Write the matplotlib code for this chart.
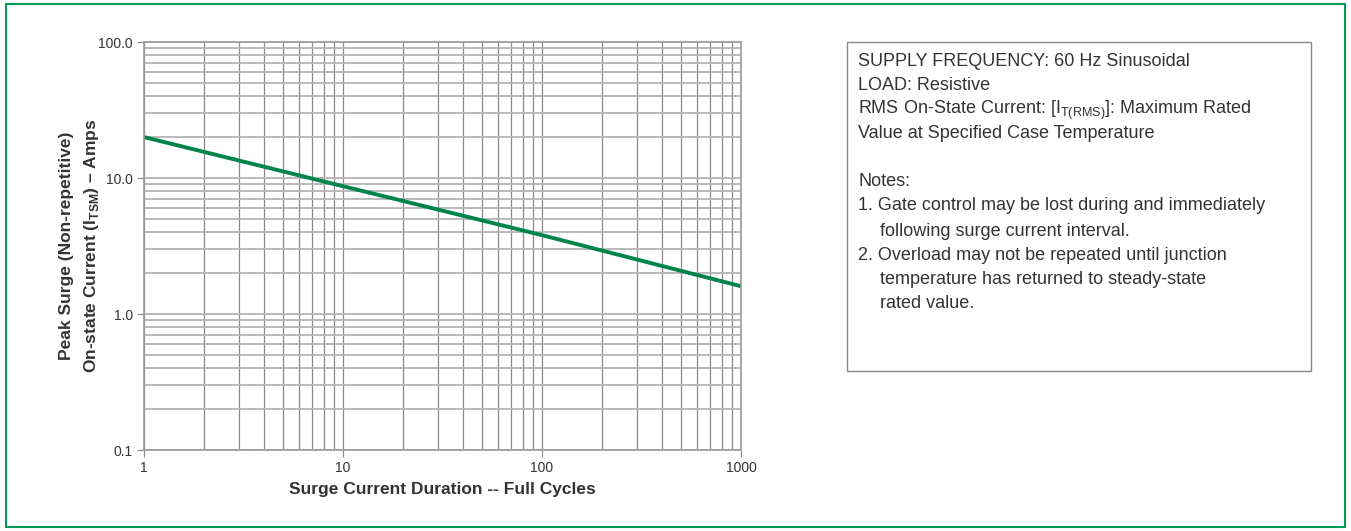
import numpy as np
import matplotlib.pyplot as plt
from matplotlib.patches import Rectangle
from matplotlib.ticker import FixedLocator, FixedFormatter, LogLocator, NullFormatter

plt.rcParams['font.family'] = ['Liberation Sans', 'DejaVu Sans']
plt.rcParams['mathtext.fontset'] = 'custom'
plt.rcParams['mathtext.rm'] = 'Liberation Sans'
plt.rcParams['mathtext.bf'] = 'Liberation Sans:bold'

# Surge curve
cycles = [1, 10, 100, 1000]
peak_amps = [20.0, 8.7, 3.8, 1.6]

x_ticks = [1, 10, 100, 1000]
x_labels = ['1', '10', '100', '1000']
y_ticks = [0.1, 1, 10, 100]
y_labels = ['0.1', '1.0', '10.0', '100.0']

green = '#00844a'
dark = '#333333'

fig = plt.figure(figsize=(13.51, 5.31), dpi=100)

# outer green frame
fig.patches.append(Rectangle((6/1351, 4/531), 1339/1351, 523/531, transform=fig.transFigure,
                             fill=False, edgecolor='#009a57', linewidth=1.5))

ax = fig.add_axes([144/1351, 1 - 450/531, 597/1351, 408/531])
ax.set_xscale('log')
ax.set_yscale('log')
ax.set_xlim(1, 1000)
ax.set_ylim(0.1, 100)

ax.xaxis.set_major_locator(FixedLocator(x_ticks))
ax.xaxis.set_major_formatter(FixedFormatter(x_labels))
ax.yaxis.set_major_locator(FixedLocator(y_ticks))
ax.yaxis.set_major_formatter(FixedFormatter(y_labels))
ax.xaxis.set_minor_locator(LogLocator(base=10, subs=np.arange(2, 10)))
ax.yaxis.set_minor_locator(LogLocator(base=10, subs=np.arange(2, 10)))
ax.xaxis.set_minor_formatter(NullFormatter())
ax.yaxis.set_minor_formatter(NullFormatter())

ax.grid(True, which='both', axis='x', color='#8a8a8a', linewidth=0.9)
ax.grid(True, which='both', axis='y', color='#b4b4b4', linewidth=1.3)
ax.tick_params(which='major', direction='out', length=5, color='#888888',
               labelsize=10, labelcolor=dark, pad=3)
ax.tick_params(which='minor', length=0)
for s in ax.spines.values():
    s.set_color('#999999')
    s.set_linewidth(1.2)

ax.plot(cycles, peak_amps, color=green, linewidth=2.8, solid_capstyle='butt', clip_on=False)

ax.set_xlabel('Surge Current Duration -- Full Cycles', fontsize=12.5, fontweight='bold',
              color=dark, labelpad=5)
ax.set_ylabel('Peak Surge (Non-repetitive)\n' + r'On-state Current (I$_{\mathbf{TSM}}$) – Amps',
              fontsize=12.5, fontweight='bold', color=dark, labelpad=-2, linespacing=1.55)

# notes box
fig.patches.append(Rectangle((847/1351, 1 - 371/531), 464/1351, 329/531, transform=fig.transFigure,
                             fill=False, edgecolor='#888888', linewidth=1.0))

notes = [
    (62, 'SUPPLY FREQUENCY: 60 Hz Sinusoidal', 858),
    (86, 'LOAD: Resistive', 858),
    (110, r'RMS On-State Current: [I$_{\mathrm{T(RMS)}}$]: Maximum Rated', 858),
    (134, 'Value at Specified Case Temperature', 858),
    (182, 'Notes:', 858),
    (206, '1. Gate control may be lost during and immediately', 858),
    (231, 'following surge current interval.', 880),
    (255, '2. Overload may not be repeated until junction', 858),
    (280, 'temperature has returned to steady-state', 880),
    (304, 'rated value.', 880),
]
for y, txt, x in notes:
    fig.text(x/1351, 1 - y/531, txt, fontsize=13, color=dark, va='center', ha='left')

fig.savefig('out.png', dpi=100)
